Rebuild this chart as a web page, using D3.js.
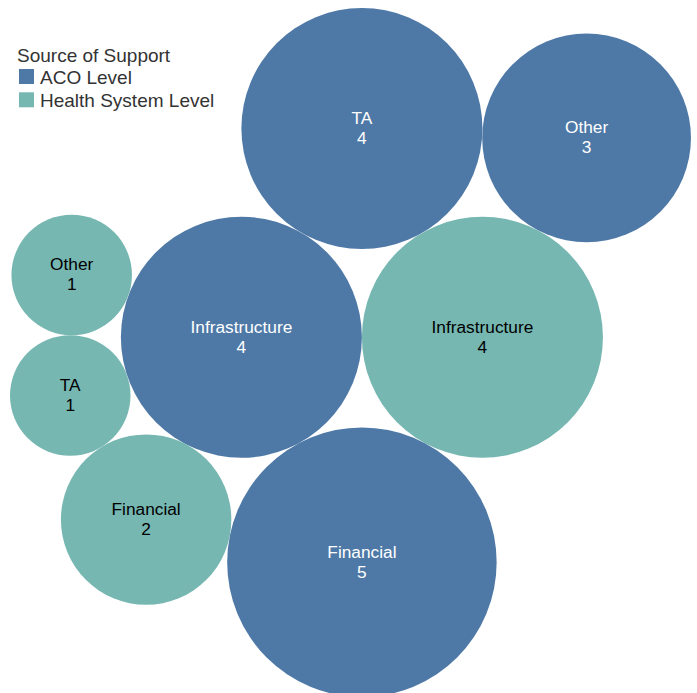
<!DOCTYPE html>
<html lang="en">
<head>
    <meta charset="UTF-8">
    <title>Source of Support</title>
    <script src="https://d3js.org/d3.v7.min.js"></script>
    <style>
        body { margin: 0; background: #fff; }
        text { font-family: Arial, "Liberation Sans", sans-serif; }
    </style>
</head>

<body>
<svg width="697" height="693">
    <g id="bubbles"></g>
    <g id="legend"></g>
</svg>
<script type="text/javascript">
    const labels = ["Financial", "Infrastructure", "TA", "Other",
                    "Financial", "Infrastructure", "TA", "Other"];
    const groups = ["ACO Level", "ACO Level", "ACO Level", "ACO Level",
                    "Health System Level", "Health System Level", "Health System Level", "Health System Level"];
    const values = [5, 4, 4, 3, 2, 4, 1, 1];

    const legendKeys = ["ACO Level", "Health System Level"];

    // packing order, and which already placed bubbles each one rests against
    const placeOrder = [1, 5, 0, 2, 3, 4, 6, 7];
    const restsOn = [[1, 5], [], [1, 5], [2, 5], [0, 1], [1], [4, 1], [6, 1]];

    function packBubbles() {
        let svg = d3.select("svg");
        let width = parseInt(svg.attr("width"));
        let height = parseInt(svg.attr("height"));

        let unit = d3.scaleSqrt().domain([0, 1]).range([0, 1]);
        let nodes = values.map((v, i) => ({i: i, label: labels[i], group: groups[i], value: v, r: unit(v)}));

        function spots(a, b, r) {
            let dx = b.x - a.x, dy = b.y - a.y, d = Math.hypot(dx, dy);
            let ra = a.r + r, rb = b.r + r;
            let t = (d * d + ra * ra - rb * rb) / (2 * d);
            let h = Math.sqrt(Math.max(0, ra * ra - t * t));
            let ux = dx / d, uy = dy / d;
            return [{x: a.x + t * ux - h * uy, y: a.y + t * uy + h * ux},
                    {x: a.x + t * ux + h * uy, y: a.y + t * uy - h * ux}];
        }

        let placed = [];
        placeOrder.forEach(idx => {
            let n = nodes[idx], on = restsOn[idx];
            if (on.length === 0) {
                n.x = 0; n.y = 0;
            } else if (on.length === 1) {
                let a = nodes[on[0]];
                n.x = a.x + a.r + n.r; n.y = a.y;
            } else {
                let free = spots(nodes[on[0]], nodes[on[1]], n.r)
                    .filter(s => placed.every(p => Math.hypot(p.x - s.x, p.y - s.y) >= p.r + n.r - 1e-6));
                let s = free.sort((p, q) => q.y - p.y)[0];
                n.x = s.x; n.y = s.y;
            }
            placed.push(n);
        });

        // fit to the view
        let x0 = d3.min(nodes, d => d.x - d.r), x1 = d3.max(nodes, d => d.x + d.r);
        let y0 = d3.min(nodes, d => d.y - d.r), y1 = d3.max(nodes, d => d.y + d.r);
        let k = (height - 4) / (y1 - y0);
        let x = d3.scaleLinear().domain([x0, x1]).range([10, 10 + (x1 - x0) * k]);
        let y = d3.scaleLinear().domain([y0, y1]).range([8, 8 + (y1 - y0) * k]);
        let radius = d3.scaleSqrt().domain([0, d3.max(values)]).range([0, k * Math.sqrt(d3.max(values))]);

        let color = d3.scaleOrdinal().domain(legendKeys).range(["#4e79a7", "#76b7b2"]);
        let ink = d3.scaleOrdinal().domain(legendKeys).range(["#ffffff", "#000000"]);

        let g = d3.select("#bubbles").selectAll("g")
            .data(nodes)
            .join("g")
            .attr("transform", d => `translate(${x(d.x)},${y(d.y)})`);

        g.append("circle")
            .attr("r", d => radius(d.value))
            .style("fill", d => color(d.group));

        g.append("text")
            .attr("text-anchor", "middle")
            .attr("font-size", 17.3)
            .attr("fill", d => ink(d.group))
            .selectAll("tspan")
            .data(d => [d.label, d.value])
            .join("tspan")
            .attr("x", 0)
            .attr("y", (d, i) => i === 0 ? -4.7 : 15.3)
            .text(d => d);

        // legend
        let legend = d3.select("#legend");
        legend.append("text")
            .attr("x", 17)
            .attr("y", 62)
            .attr("font-size", 19)
            .attr("fill", "#333")
            .text("Source of Support");

        let item = legend.selectAll("g.item")
            .data(legendKeys)
            .join("g")
            .attr("class", "item")
            .attr("transform", (d, i) => `translate(19,${69 + i * 23.3})`);

        item.append("rect")
            .attr("width", 15)
            .attr("height", 15)
            .style("fill", d => color(d));

        item.append("text")
            .attr("x", 21)
            .attr("y", 14.5)
            .attr("font-size", 19)
            .attr("fill", "#333")
            .text(d => d);
    }
    packBubbles();
</script>
</body>
</html>
